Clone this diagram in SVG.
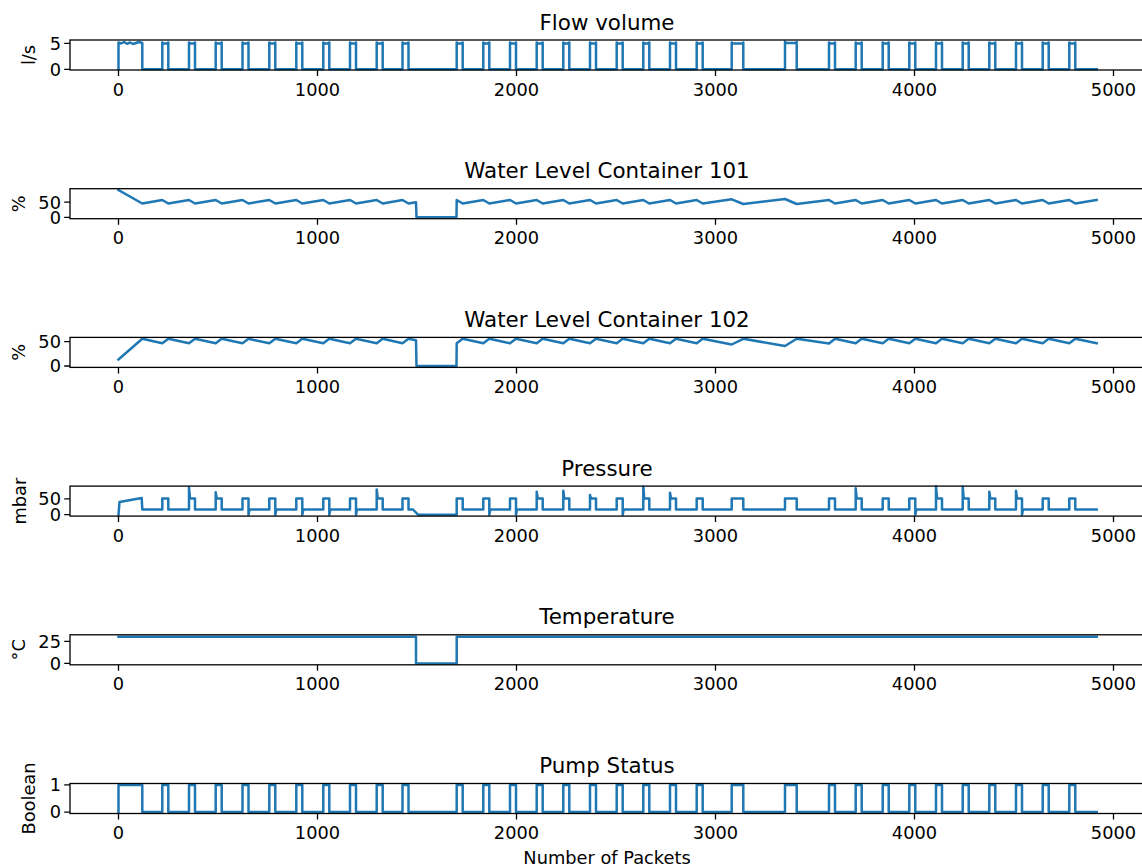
<svg xmlns="http://www.w3.org/2000/svg" width="1142" height="866" viewBox="0 0 1142 866">
<style>
text{font-family:"DejaVu Sans","Liberation Sans",sans-serif;fill:#000}
.xt{font-size:17.8px;text-anchor:middle}
.yt{font-size:17.8px;text-anchor:end}
.ttl{font-size:21.4px;text-anchor:middle}
.yl{font-size:17.8px;text-anchor:middle}
.ax{fill:none;stroke:#000;stroke-width:1.3}
.tick{stroke:#000;stroke-width:1.3}
.ln{fill:none;stroke:#1f77b4;stroke-width:2.5;stroke-linejoin:round;stroke-linecap:square}
</style>
<defs>
<g id="xaxis">
<path class="tick" d="M118.5,0v6M317.5,0v6M516.5,0v6M715.5,0v6M914.5,0v6M1113.5,0v6"/>
<text class="xt" x="118.5" y="25.7">0</text>
<text class="xt" x="317.5" y="25.7">1000</text>
<text class="xt" x="516.5" y="25.7">2000</text>
<text class="xt" x="715.5" y="25.7">3000</text>
<text class="xt" x="914.5" y="25.7">4000</text>
<text class="xt" x="1113.5" y="25.7">5000</text>
</g>
</defs>
<rect width="1142" height="866" fill="#fff"/>

<g id="flow">
<text class="ttl" x="607" y="29.6">Flow volume</text>
<path class="ln" d="M118.5,69.3 V42.5 L121,43.5 L124,42 L127,43.8 L130,42.5 L133,44 L136,43 L139,42 L142.3,43 V69.3
H162.3 V42.5 l1,1 h4 l1,-1 V69.3 H189 V42.5 l1,1 h4 l1,-1 V69.3 H215.7 V42.5 l1,1 h4 l1,-1 V69.3 H242.5 V42.5 l1,1 h4 l1,-1 V69.3
H269.3 V42.5 l1,1 h4 l1,-1 V69.3 H296.3 V42.5 l1,1 h4 l1,-1 V69.3 H323.3 V42.5 l1,1 h4 l1,-1 V69.3 H350 V42.5 l1,1 h4 l1,-1 V69.3
H376.7 V42.5 l1,1 h4 l1,-1 V69.3 H402.5 V42.5 l1,1 h4 l1,-1 V69.3 H456.7 V42.5 l1,1 h4 l1,-1 V69.3 H483.3 V42.5 l1,1 h4 l1,-1 V69.3
H510 V42.5 l1,1 h4 l1,-1 V69.3 H536.7 V42.5 l1,1 h4 l1,-1 V69.3 H563.3 V42.5 l1,1 h4 l1,-1 V69.3 H590 V42.5 l1,1 h4 l1,-1 V69.3
H616.7 V42.5 l1,1 h4 l1,-1 V69.3 H643.3 V42.5 l1,1 h4 l1,-1 V69.3 H670 V42.5 l1,1 h4 l1,-1 V69.3 H696.7 V42.5 l1,1 h4 l1,-1 V69.3
H731.7 V42.5 l1,1 h9.6 l1,-1 V69.3 H785 V41.5 l1,1.5 h9.7 l1,-1 V69.3
H829 V42.5 l1,1 h4 l1,-1 V69.3 H855.7 V42.5 l1,1 h4 l1,-1 V69.3 H882.7 V42.5 l1,1 h4 l1,-1 V69.3 H909.3 V42.5 l1,1 h4 l1,-1 V69.3
H936 V42.5 l1,1 h4 l1,-1 V69.3 H962.7 V42.5 l1,1 h4 l1,-1 V69.3 H989.3 V42.5 l1,1 h4 l1,-1 V69.3 H1016 V42.5 l1,1 h4 l1,-1 V69.3
H1042.7 V42.5 l1,1 h4 l1,-1 V69.3 H1069.3 V42.5 l1,1 h4 l1,-1 V69.3 H1096.7"/>
<rect class="ax" x="70" y="40" width="1076" height="30"/>
<path class="tick" d="M64.2,43.3H70M64.2,69.3H70"/>
<text class="yt" x="61" y="49.6">5</text>
<text class="yt" x="61" y="75.6">0</text>
<text class="yl" transform="translate(35.3,55) rotate(-90)">l/s</text>
<use href="#xaxis" transform="translate(0,70)"/>
</g>

<g id="level101">
<text class="ttl" x="607" y="178.3">Water Level Container 101</text>
<path class="ln" d="M118.5,190.1 L142.3,203.5 L162.3,200 L168.3,203.5 L189,200 L195,203.5 L215.7,200 L221.7,203.5 L242.5,200 L248.5,203.5
L269.3,200 L275.3,203.5 L296.3,200 L302.3,203.5 L323.3,200 L329.3,203.5 L350,200 L356,203.5 L376.7,200 L382.7,203.5
L402.5,200 L408.5,203.5 L416,202.3 L416.5,217.3 L456.5,217.3 L456.7,200 L462.7,203.5
L483.3,200 L489.3,203.5 L510,200 L516,203.5 L536.7,200 L542.7,203.5 L563.3,200 L569.3,203.5 L590,200 L596,203.5
L616.7,200 L622.7,203.5 L643.3,200 L649.3,203.5 L670,200 L676,203.5 L696.7,200 L702.7,203.5
L731.7,199.3 L743.3,204 L785,199 L796.7,204
L829,200 L835,203.5 L855.7,200 L861.7,203.5 L882.7,200 L888.7,203.5 L909.3,200 L915.3,203.5 L936,200 L942,203.5
L962.7,200 L968.7,203.5 L989.3,200 L995.3,203.5 L1016,200 L1022,203.5 L1042.7,200 L1048.7,203.5 L1069.3,200 L1075.3,203.5 L1096.7,200"/>
<rect class="ax" x="70" y="188.7" width="1076" height="30"/>
<path class="tick" d="M64.2,202.2H70M64.2,217.3H70"/>
<text class="yt" x="61" y="208.5">50</text>
<text class="yt" x="61" y="223.6">0</text>
<text class="yl" transform="translate(24.8,203.7) rotate(-90)">%</text>
<use href="#xaxis" transform="translate(0,218.7)"/>
</g>

<g id="level102">
<text class="ttl" x="607" y="327">Water Level Container 102</text>
<path class="ln" d="M118.5,359.5 L142.3,338.8 L162.3,343.3 L168.3,338.8 L189,343.3 L195,338.8 L215.7,343.3 L221.7,338.8 L242.5,343.3 L248.5,338.8
L269.3,343.3 L275.3,338.8 L296.3,343.3 L302.3,338.8 L323.3,343.3 L329.3,338.8 L350,343.3 L356,338.8 L376.7,343.3 L382.7,338.8
L402.5,343.3 L408.5,338.8 L416,340.3 L416.5,366 L456.5,366 L456.7,343.3 L462.7,338.8
L483.3,343.3 L489.3,338.8 L510,343.3 L516,338.8 L536.7,343.3 L542.7,338.8 L563.3,343.3 L569.3,338.8 L590,343.3 L596,338.8
L616.7,343.3 L622.7,338.8 L643.3,343.3 L649.3,338.8 L670,343.3 L676,338.8 L696.7,343.3 L702.7,338.8
L731.7,344.5 L743.3,338.8 L785,346 L796.7,338.8
L829,343.5 L835,338.8 L855.7,343.3 L861.7,338.8 L882.7,343.3 L888.7,338.8 L909.3,343.3 L915.3,338.8 L936,343.3 L942,338.8
L962.7,343.3 L968.7,338.8 L989.3,343.3 L995.3,338.8 L1016,343.3 L1022,338.8 L1042.7,343.3 L1048.7,338.8 L1069.3,343.3 L1075.3,338.8 L1096.7,343.3"/>
<rect class="ax" x="70" y="337.4" width="1076" height="30"/>
<path class="tick" d="M64.2,341.7H70M64.2,366H70"/>
<text class="yt" x="61" y="348">50</text>
<text class="yt" x="61" y="372.3">0</text>
<text class="yl" transform="translate(24.8,352.4) rotate(-90)">%</text>
<use href="#xaxis" transform="translate(0,367.4)"/>
</g>

<g id="pressure">
<text class="ttl" x="607" y="475.7">Pressure</text>
<path class="ln" d="M118.5,514.7 L119.5,502 L141.7,498 L142.3,509.5
H162.3 V498.5 H168.3 V509.5
H189 V487.3 L190,498.5 H195 V509.5
H215.7 V492.3 L216.7,498.5 H221.7 V509.5
H242.5 V498.5 H248.5 V514.7 L249.5,509.5
H269.3 V498.5 H275.3 V514.7 L276.3,509.5
H296.3 V498.5 H302.3 V514.7 L303.3,509.5
H323.3 V498.5 H329.3 V514.7 L330.3,509.5
H350 V498.5 H356 V514.7 L357,509.5
H376.7 V489.5 L377.7,498.5 H382.7 V509.5
H402.5 V498.5 H408.5 V509.5 H413 L418,514.7 H456.7 V498.5 H462.7 V509.5
H483.3 V498.5 H489.3 V514.7 L490.3,509.5
H510 V498.5 H516 V514.7 L517,509.5
H536.7 V491.7 L537.7,498.5 H542.7 V509.5
H563.3 V490.7 L564.3,498.5 H569.3 V509.5
H590 V495 L591,498.5 H596 V509.5
H616.7 V498.5 H622.7 V514.7 L623.7,509.5
H643.3 V486.7 L644.3,498.5 H649.3 V509.5
H670 V492.7 L671,498.5 H676 V509.5
H696.7 V498.5 H702.7 V509.5
H731.7 V498.5 H743.3 V509.5
H785 V498.5 H796.7 V509.5
H829 V498.5 H835 V509.5
H855.7 V488.3 L856.7,498.5 H861.7 V509.5
H882.7 V498.5 H888.7 V509.5
H909.3 V498.5 H915.3 V514.7 L916.3,509.5
H936 V486.2 L937,498.5 H942 V509.5
H962.7 V486.7 L963.7,498.5 H968.7 V509.5
H989.3 V491.7 L990.3,498.5 H995.3 V509.5
H1016 V490.7 L1017,498.5 H1022 V514.7 L1023,509.5
H1042.7 V498.5 H1048.7 V509.5
H1069.3 V498.5 H1075.3 V509.5 H1096.7"/>
<rect class="ax" x="70" y="486.1" width="1076" height="30"/>
<path class="tick" d="M64.2,498.8H70M64.2,514.7H70"/>
<text class="yt" x="61" y="505.1">50</text>
<text class="yt" x="61" y="521">0</text>
<text class="yl" transform="translate(26.3,501.1) rotate(-90)">mbar</text>
<use href="#xaxis" transform="translate(0,516.1)"/>
</g>

<g id="temperature">
<text class="ttl" x="607" y="624.4">Temperature</text>
<path class="ln" d="M118.5,636.8 H416 V663.4 H456.7 V636.8 H1096.7"/>
<rect class="ax" x="70" y="634.8" width="1076" height="30"/>
<path class="tick" d="M64.2,641.4H70M64.2,663.4H70"/>
<text class="yt" x="61" y="647.7">25</text>
<text class="yt" x="61" y="669.7">0</text>
<text class="yl" transform="translate(24.8,649.8) rotate(-90)">°C</text>
<use href="#xaxis" transform="translate(0,664.8)"/>
</g>

<g id="pump">
<text class="ttl" x="607" y="773.1">Pump Status</text>
<path class="ln" d="M118.5,812.1 V784.9 H142.3 V812.1 H162.3 V784.9 H168.3 V812.1 H189 V784.9 H195 V812.1 H215.7 V784.9 H221.7 V812.1 H242.5 V784.9 H248.5 V812.1
H269.3 V784.9 H275.3 V812.1 H296.3 V784.9 H302.3 V812.1 H323.3 V784.9 H329.3 V812.1 H350 V784.9 H356 V812.1 H376.7 V784.9 H382.7 V812.1
H402.5 V784.9 H408.5 V812.1 H456.7 V784.9 H462.7 V812.1 H483.3 V784.9 H489.3 V812.1 H510 V784.9 H516 V812.1 H536.7 V784.9 H542.7 V812.1
H563.3 V784.9 H569.3 V812.1 H590 V784.9 H596 V812.1 H616.7 V784.9 H622.7 V812.1 H643.3 V784.9 H649.3 V812.1 H670 V784.9 H676 V812.1
H696.7 V784.9 H702.7 V812.1 H731.7 V784.9 H743.3 V812.1 H785 V784.9 H796.7 V812.1 H829 V784.9 H835 V812.1 H855.7 V784.9 H861.7 V812.1
H882.7 V784.9 H888.7 V812.1 H909.3 V784.9 H915.3 V812.1 H936 V784.9 H942 V812.1 H962.7 V784.9 H968.7 V812.1 H989.3 V784.9 H995.3 V812.1
H1016 V784.9 H1022 V812.1 H1042.7 V784.9 H1048.7 V812.1 H1069.3 V784.9 H1075.3 V812.1 H1096.7"/>
<rect class="ax" x="70" y="783.5" width="1076" height="30"/>
<path class="tick" d="M64.2,784.9H70M64.2,812.1H70"/>
<text class="yt" x="61" y="791.2">1</text>
<text class="yt" x="61" y="818.4">0</text>
<text class="yl" transform="translate(34.7,798.5) rotate(-90)">Boolean</text>
<use href="#xaxis" transform="translate(0,813.5)"/>
<text class="yl" x="607" y="864">Number of Packets</text>
</g>
<g id="connectors"/>
</svg>
